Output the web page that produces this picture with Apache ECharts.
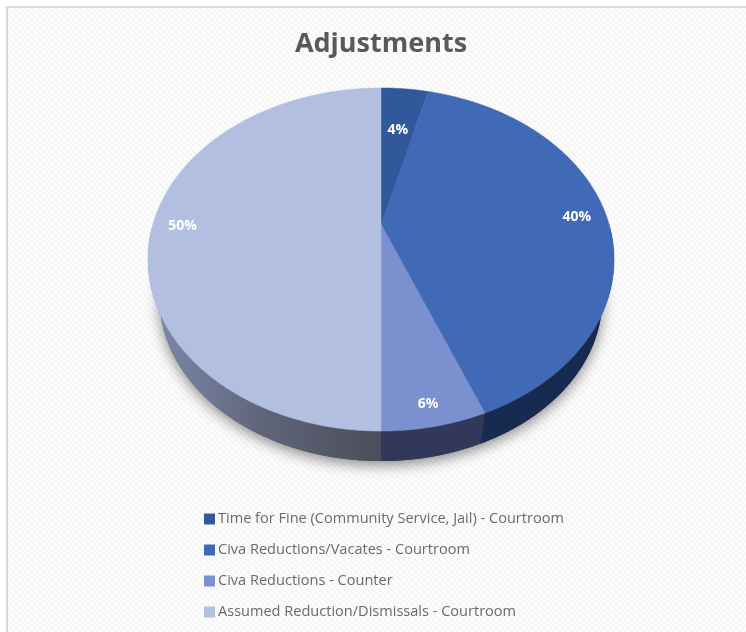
<!DOCTYPE html>
<html>
<head>
<meta charset="utf-8">
<style>html,body{margin:0;padding:0;background:#fff}#chart{width:746px;height:632px}</style>
<script src="https://cdn.jsdelivr.net/npm/echarts@6/dist/echarts.min.js"></script>
</head>
<body>
<div id="chart"></div>
<script>
// Share of adjustments by type, in percent
const categories = [
  'Time for Fine (Community Service, Jail) - Courtroom',
  'Civa Reductions/Vacates - Courtroom',
  'Civa Reductions - Counter',
  'Assumed Reduction/Dismissals - Courtroom'
];
const shares = [4, 40, 6, 50];

const topColors = ['#31589a', '#4069b6', '#7a90cf', '#b2bfe0'];
const sideColors = ['#1c2d50', '#172a50', '#31385a', null];
const labelRadius = [0.67, 0.87, 0.9, 0.87];

// Tilted disc: a projective map of the unit circle, so the hub sits above the ellipse centre
const DISC = { cx: 381, hubY: 224, a: 228, b: 164.2, k: 0.207 };
const BASE = { hubY: 264.4, scale: 0.95 };
const LABEL_DROP = 2;

function project(theta, r, hubY, scale) {
  const X = r * Math.sin(theta), Y = -r * Math.cos(theta);
  const w = 1 - DISC.k * Y;
  return [DISC.cx + scale * DISC.a * X / w, hubY + scale * DISC.b * Y / w];
}
const total = shares.reduce((s, v) => s + v, 0);
function spanOf(i) {
  let before = 0;
  for (let j = 0; j < i; j++) before += shares[j];
  return [before / total * 2 * Math.PI, (before + shares[i]) / total * 2 * Math.PI];
}
function arc(from, to, hubY, scale) {
  const pts = [], n = Math.max(2, Math.ceil((to - from) / 0.01));
  for (let i = 0; i <= n; i++) pts.push(project(from + (to - from) * i / n, 1, hubY, scale));
  return pts;
}

// Side wall plus soft cast shadow, only along the near half of the rim
function renderDepth(params) {
  const i = params.dataIndex;
  const children = [];
  if (i === 0) {
    children.push({
      type: 'polygon',
      shape: { points: arc(0, 2 * Math.PI, BASE.hubY, BASE.scale) },
      style: { fill: '#555', shadowBlur: 14, shadowOffsetY: 4, shadowColor: 'rgba(0,0,0,0.45)' }
    });
  }
  const span = spanOf(i);
  const from = Math.max(span[0], 1.6), to = Math.min(span[1], 4.7);
  if (to > from) {
    const fill = sideColors[i] || {
      type: 'linear', x: 0, y: 0, x2: 1, y2: 0,
      colorStops: [
        { offset: 0, color: '#7f8aad' },
        { offset: 0.5, color: '#5f6479' },
        { offset: 1, color: '#4a4e5b' }
      ]
    };
    const edge = arc(from, to, DISC.hubY, 1).concat(arc(from, to, BASE.hubY, BASE.scale).reverse());
    children.push({ type: 'polygon', shape: { points: edge }, style: { fill: fill } });
  }
  return { type: 'group', children: children };
}

// Top face of one slice with its white percentage label
function renderFace(i) {
  const span = spanOf(i);
  const mid = (span[0] + span[1]) / 2;
  const pos = project(mid, labelRadius[i], DISC.hubY, 1);
  return {
    type: 'group',
    children: [
      {
        type: 'polygon',
        shape: { points: [[DISC.cx, DISC.hubY]].concat(arc(span[0], span[1], DISC.hubY, 1)) },
        style: { fill: topColors[i], stroke: topColors[i], lineWidth: 0.5 }
      },
      {
        type: 'text', z2: 10,
        style: {
          x: pos[0], y: pos[1] + LABEL_DROP, text: shares[i] + '%',
          fill: '#fff', font: 'bold 14px "Open Sans", "Noto Sans", sans-serif',
          align: 'center', verticalAlign: 'middle'
        }
      }
    ]
  };
}

// Faint diagonal hatch for the chart area
const tile = document.createElement('canvas');
tile.width = tile.height = 6;
const tc = tile.getContext('2d');
tc.fillStyle = '#fdfdfd';
tc.fillRect(0, 0, 6, 6);
tc.strokeStyle = '#f5f5f5';
tc.lineWidth = 2;
[-6, 0, 6].forEach(d => {
  tc.beginPath(); tc.moveTo(d, 0); tc.lineTo(d + 6, 6); tc.stroke();
});

const faceSeries = categories.map((name, i) => ({
  type: 'custom',
  name: name,
  coordinateSystem: 'none',
  z: 5,
  silent: true,
  itemStyle: { color: topColors[i] },
  data: [[shares[i]]],
  renderItem: () => renderFace(i)
}));

const chart = echarts.init(document.getElementById('chart'));
chart.setOption({
  animation: false,
  backgroundColor: '#fff',
  title: {
    text: 'Adjustments',
    left: 376,
    top: 26,
    textAlign: 'center',
    textStyle: { fontFamily: '"Open Sans", "Noto Sans", sans-serif', fontWeight: 'bold', fontSize: 27, color: '#595959' }
  },
  legend: {
    data: categories,
    orient: 'vertical',
    left: 204,
    top: 510,
    icon: 'rect',
    itemWidth: 11,
    itemHeight: 11,
    itemGap: 13,
    padding: 0,
    selectedMode: false,
    textStyle: { fontFamily: '"Open Sans", "Noto Sans", sans-serif', fontSize: 14.55, color: '#6a6a6a', padding: [0, 0, 0, -2], lineHeight: 18 }
  },
  graphic: [{
    type: 'rect',
    z: -10,
    silent: true,
    shape: { x: 7, y: 7, width: 800, height: 700 },
    style: { fill: { image: tile, repeat: 'repeat' }, stroke: '#d9d9d9', lineWidth: 2 }
  }],
  series: [{
    type: 'custom',
    name: 'depth',
    coordinateSystem: 'none',
    z: 3,
    silent: true,
    data: shares.map(v => [v]),
    renderItem: renderDepth
  }].concat(faceSeries)
});
</script>
</body>
</html>
